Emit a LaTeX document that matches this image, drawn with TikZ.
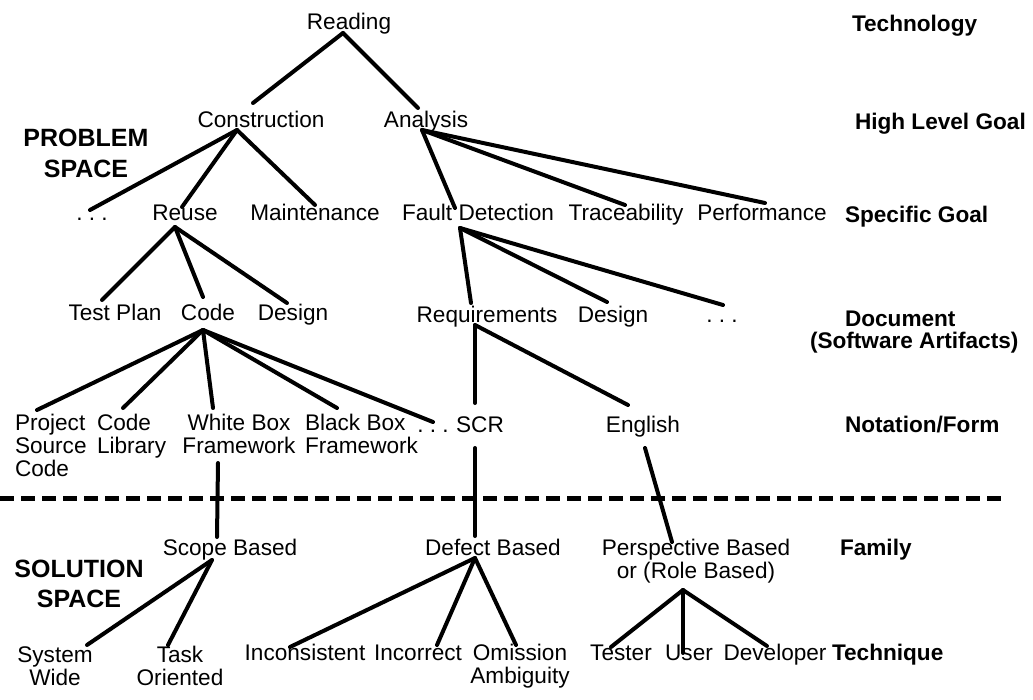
\documentclass[tikz,border=0pt]{standalone}
\usepackage{fontspec}
\setmainfont{Liberation Sans}
\newcommand{\mlL}[1]{\begin{tabular}[t]{@{}l@{}}#1\end{tabular}}
\newcommand{\mlC}[1]{\begin{tabular}[t]{@{}c@{}}#1\end{tabular}}
\begin{document}
\begin{tikzpicture}[x=0.5pt,y=-0.5pt,
  txt/.style={inner sep=0pt, outer sep=0pt, anchor=base, font=\fontsize{11.3}{11.6}\selectfont},
  txtl/.style={txt, anchor=base west},
  lvl/.style={inner sep=0pt, outer sep=0pt, anchor=base west, font=\bfseries\fontsize{11.3}{11}\selectfont},
  space/.style={inner sep=0pt, outer sep=0pt, anchor=base, font=\bfseries\fontsize{12.5}{15.5}\selectfont},
  link/.style={line width=2pt, line cap=round},
  sep/.style={line width=2.5pt, dash pattern=on 7pt off 3.5pt}]
\useasboundingbox (0,0) rectangle (1033,700);
% tree nodes
\node[txt] (read) at (349,30) {Reading};
\node[txt] (cons) at (261,128) {Construction};
\node[txt] (anal) at (426,128) {Analysis};
\node[txt] (dotsA) at (92,221) {.\ .\ .};
\node[txt] (reuse) at (185,221) {Reuse};
\node[txt] (maint) at (315,221) {Maintenance};
\node[txt] (fault) at (478,221) {Fault Detection};
\node[txt] (trace) at (626,221) {Traceability};
\node[txt] (perf) at (762,221) {Performance};
\node[txt] (tplan) at (115,321) {Test Plan};
\node[txt] (code) at (208,321) {Code};
\node[txt] (desA) at (293,321) {Design};
\node[txt] (req) at (487,322) {Requirements};
\node[txt] (desB) at (613,322) {Design};
\node[txt] (dotsB) at (722,322) {.\ .\ .};
\node[txtl] (proj) at (15,430) {\mlL{Project\\Source\\Code}};
\node[txtl] (lib) at (97,430) {\mlL{Code\\Library}};
\node[txt] (wbox) at (239,430) {\mlC{White Box\\Framework}};
\node[txtl] (bbox) at (305,430) {\mlL{Black Box\\Framework}};
\node[txt] (dotsC) at (433,432) {.\ .\ .};
\node[txt] (scr) at (480,432) {SCR};
\node[txt] (eng) at (643,432) {English};
\node[txt] (scope) at (230,555) {Scope Based};
\node[txt] (defect) at (493,555) {Defect Based};
\node[txt] (persp) at (696,555) {\mlC{Perspective Based\\or (Role Based)}};
\node[txt] (sysw) at (55,662) {\mlC{System\\Wide}};
\node[txt] (task) at (180,662) {\mlC{Task\\Oriented}};
\node[txt] (incons) at (305,660) {Inconsistent};
\node[txt] (incorr) at (418,660) {Incorrect};
\node[txt] (omis) at (520,660) {\mlC{Omission\\Ambiguity}};
\node[txt] (tester) at (621,660) {Tester};
\node[txt] (user) at (689,660) {User};
\node[txt] (dev) at (775,660) {Developer};
% level labels
\node[lvl] (lTech) at (852,32) {Technology};
\node[lvl] (lHigh) at (855,130) {High Level Goal};
\node[lvl] (lSpec) at (845,223) {Specific Goal};
\node[lvl] (lDoc) at (810,326) {\mlL{\hspace*{17.5pt}Document\\(Software Artifacts)}};
\node[lvl] (lNot) at (845,432) {Notation/Form};
\node[lvl] (lFam) at (840,555) {Family};
\node[lvl] (lTechn) at (832,660) {Technique};
\node[space] (prob) at (86,147) {\mlC{PROBLEM\\SPACE}};
\node[space, font=\bfseries\fontsize{12.5}{15}\selectfont] (sol) at (79,577) {\mlC{SOLUTION\\SPACE}};
% separator
\draw[sep] (0,498) -- (1008,498);
% connectors
\draw[link] ([shift={(-6,3)}]read.base) -- ([shift={(-8,-25)}]cons.base);
\draw[link] ([shift={(-6,3)}]read.base) -- ([shift={(-8,-20)}]anal.base);
\draw[link] ([shift={(-24,2)}]cons.base) -- ([shift={(-2,-11)}]dotsA.base);
\draw[link] ([shift={(-24,2)}]cons.base) -- ([shift={(-3,-14)}]reuse.base);
\draw[link] ([shift={(-24,2)}]cons.base) -- ([shift={(0,-16)}]maint.base);
\draw[link] ([shift={(-4,2)}]anal.base) -- ([shift={(-23,-13)}]fault.base);
\draw[link] ([shift={(-4,2)}]anal.base) -- ([shift={(-1,-16)}]trace.base);
\draw[link] ([shift={(-4,2)}]anal.base) -- ([shift={(3,-18)}]perf.base);
\draw[link] ([shift={(-10,6)}]reuse.base) -- ([shift={(-13,-21)}]tplan.base);
\draw[link] ([shift={(-10,6)}]reuse.base) -- ([shift={(-5,-24)}]code.base);
\draw[link] ([shift={(-10,6)}]reuse.base) -- ([shift={(-6,-18)}]desA.base);
\draw[link] ([shift={(-18,7)}]fault.base) -- ([shift={(-16,-19)}]req.base);
\draw[link] ([shift={(-18,7)}]fault.base) -- ([shift={(-6,-20)}]desB.base);
\draw[link] ([shift={(-18,7)}]fault.base) -- ([shift={(1,-17)}]dotsB.base);
\draw[link] ([shift={(-5,9)}]code.base) -- ([shift={(22,-20)}]proj.base west);
\draw[link] ([shift={(-5,9)}]code.base) -- ([shift={(26,-22)}]lib.base west);
\draw[link] ([shift={(-5,9)}]code.base) -- ([shift={(-26,-22)}]wbox.base);
\draw[link] ([shift={(-5,9)}]code.base) -- ([shift={(32,-22)}]bbox.base west);
\draw[link] ([shift={(-5,9)}]code.base) -- ([shift={(0,-10)}]dotsC.base);
\draw[link] ([shift={(-12,3)}]req.base) -- ([shift={(-5,-29)}]scr.base);
\draw[link] ([shift={(-12,3)}]req.base) -- ([shift={(-15,-27)}]eng.base);
\draw[link] ([shift={(-21,33)}]wbox.base) -- ([shift={(-13,-18)}]scope.base);
\draw[link] ([shift={(-5,16)}]scr.base) -- ([shift={(-18,-19)}]defect.base);
\draw[link] ([shift={(2,16)}]eng.base) -- ([shift={(-24,-13)}]persp.base);
\draw[link] ([shift={(-18,5)}]scope.base) -- ([shift={(32,-17)}]sysw.base);
\draw[link] ([shift={(-18,5)}]scope.base) -- ([shift={(-12,-17)}]task.base);
\draw[link] ([shift={(-18,3)}]defect.base) -- ([shift={(-15,-13)}]incons.base);
\draw[link] ([shift={(-18,3)}]defect.base) -- ([shift={(19,-15)}]incorr.base);
\draw[link] ([shift={(-18,3)}]defect.base) -- ([shift={(-4,-15)}]omis.base);
\draw[link] ([shift={(-13,35)}]persp.base) -- ([shift={(-10,-13)}]tester.base);
\draw[link] ([shift={(-13,35)}]persp.base) -- ([shift={(-6,-7)}]user.base);
\draw[link] ([shift={(-13,35)}]persp.base) -- ([shift={(-8,-14)}]dev.base);
\end{tikzpicture}
\end{document}
